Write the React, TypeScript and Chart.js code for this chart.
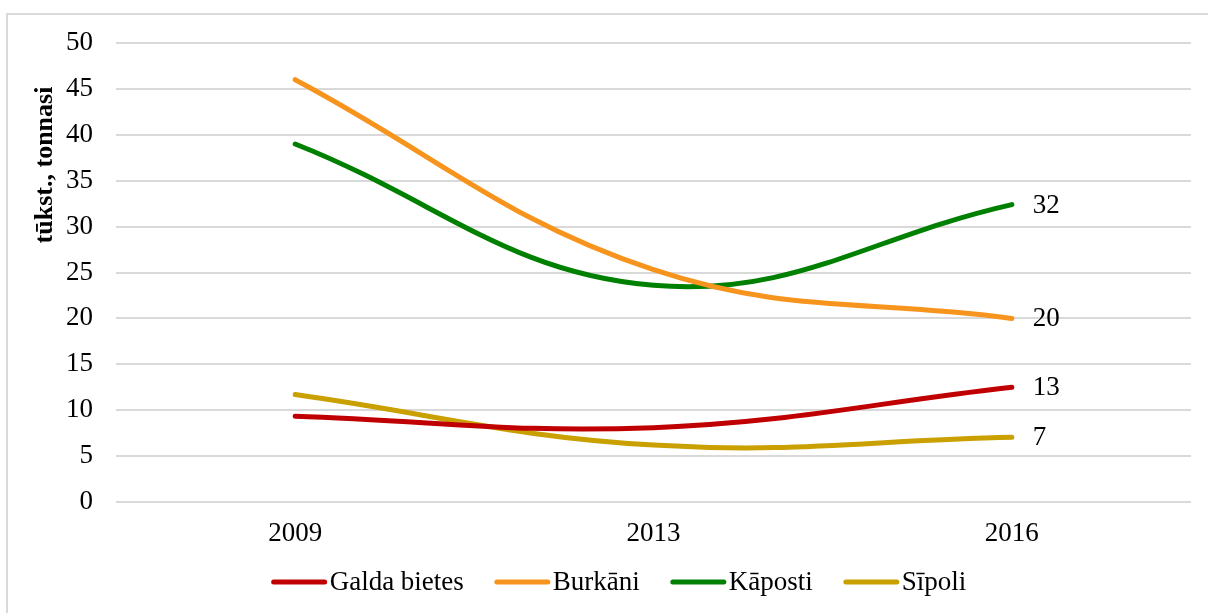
import React, { useEffect, useRef } from 'react';
import { Chart, registerables } from 'chart.js';

Chart.register(...registerables);

const years = ['2009', '2013', '2016'];
const galdaBietes = [9.35, 8.1, 12.5];
const burkani = [46.0, 25.3, 20.0];
const kaposti = [39.0, 23.6, 32.4];
const sipoli = [11.7, 6.2, 7.05];
const seriesNames = ['Galda bietes', 'Burkāni', 'Kāposti', 'Sīpoli'];
const seriesColors = ['#C00000', '#F7941E', '#008000', '#C9A000'];
const yTitle = 'tūkst., tonnasi';
const FONT = '"Liberation Serif", "Times New Roman", serif';
const FS = 27;

const endLabels = {
  id: 'endLabels',
  afterDatasetsDraw(chart: any) {
    const ctx = chart.ctx;
    ctx.save();
    ctx.font = `${FS}px ${FONT}`;
    ctx.fillStyle = '#000';
    ctx.textBaseline = 'middle';
    ctx.textAlign = 'left';
    chart.data.datasets.forEach((ds: any, i: number) => {
      const meta = chart.getDatasetMeta(i);
      const last = meta.data[meta.data.length - 1];
      const v = ds.data[ds.data.length - 1];
      ctx.fillText(String(Math.round(v)), last.x + 21, last.y + 1);
    });
    ctx.restore();
  },
};

const yTitlePlugin = {
  id: 'yTitlePlugin',
  afterDraw(chart: any) {
    const ctx = chart.ctx;
    const area = chart.chartArea;
    ctx.save();
    ctx.font = `bold 26px ${FONT}`;
    ctx.fillStyle = '#000';
    ctx.textAlign = 'center';
    ctx.textBaseline = 'middle';
    ctx.translate(45, area.top + 122);
    ctx.rotate(-Math.PI / 2);
    ctx.fillText(yTitle, 0, 0);
    ctx.restore();
  },
};

const customLegend = {
  id: 'customLegend',
  afterDraw(chart: any) {
    const ctx = chart.ctx;
    ctx.save();
    ctx.font = `${FS}px ${FONT}`;
    const lineLen = 55;
    const textGap = 3;
    const itemGap = 31;
    const items = chart.data.datasets.map((ds: any) => ({
      label: ds.label,
      color: ds.borderColor,
      w: lineLen + textGap + ctx.measureText(ds.label).width,
    }));
    const total = items.reduce((s: number, it: any) => s + it.w, 0) + itemGap * (items.length - 1);
    let x = chart.width / 2 + 15 - total / 2;
    const y = chart.height - 31;
    items.forEach((it: any) => {
      ctx.strokeStyle = it.color;
      ctx.lineWidth = 5;
      ctx.lineCap = 'round';
      ctx.beginPath();
      ctx.moveTo(x + 2, y);
      ctx.lineTo(x + lineLen - 2, y);
      ctx.stroke();
      ctx.fillStyle = '#000';
      ctx.textBaseline = 'middle';
      ctx.textAlign = 'left';
      ctx.fillText(it.label, x + lineLen + textGap, y + 1);
      x += it.w + itemGap;
    });
    ctx.restore();
  },
};

export default function App() {
  const ref = useRef<HTMLCanvasElement | null>(null);

  useEffect(() => {
    if (!ref.current) return;
    const series = [galdaBietes, burkani, kaposti, sipoli];
    const chart = new Chart(ref.current, {
      type: 'line',
      data: {
        labels: years,
        datasets: series.map((d, i) => ({
          label: seriesNames[i],
          data: d,
          borderColor: seriesColors[i],
          backgroundColor: seriesColors[i],
          borderWidth: 5,
          borderCapStyle: 'round',
          pointRadius: 0,
          pointHoverRadius: 0,
          tension: 0.4,
          fill: false,
        })),
      },
      options: {
        responsive: false,
        maintainAspectRatio: false,
        animation: false,
        layout: { padding: { left: 29, right: 17, top: 43, bottom: 65 } },
        plugins: {
          legend: { display: false },
          tooltip: { enabled: false },
        },
        scales: {
          x: {
            offset: true,
            grid: { display: false, drawTicks: false },
            border: { display: false },
            ticks: { color: '#000', font: { family: FONT, size: FS }, padding: 16 },
            afterFit(scale: any) {
              scale.height = 46;
            },
          },
          y: {
            min: 0,
            max: 50,
            ticks: { stepSize: 5, color: '#000', font: { family: FONT, size: FS }, padding: 23 },
            grid: { color: '#d9d9d9', lineWidth: 2, drawTicks: false },
            border: { display: false },
            afterFit(scale: any) {
              scale.width = 87;
            },
          },
        },
      },
      plugins: [endLabels, yTitlePlugin, customLegend],
    });
    return () => chart.destroy();
  }, []);

  return (
    <div style={{ position: 'fixed', left: 0, top: 0, width: 1208, height: 613, background: '#fff', overflow: 'hidden' }}>
      <div
        style={{
          position: 'absolute',
          left: 6,
          top: 13,
          width: 1300,
          height: 700,
          borderLeft: '2px solid #d9d9d9',
          borderTop: '2px solid #d9d9d9',
        }}
      />
      <canvas ref={ref} width={1208} height={613} style={{ position: 'absolute', left: 0, top: 0 }} />
    </div>
  );
}
